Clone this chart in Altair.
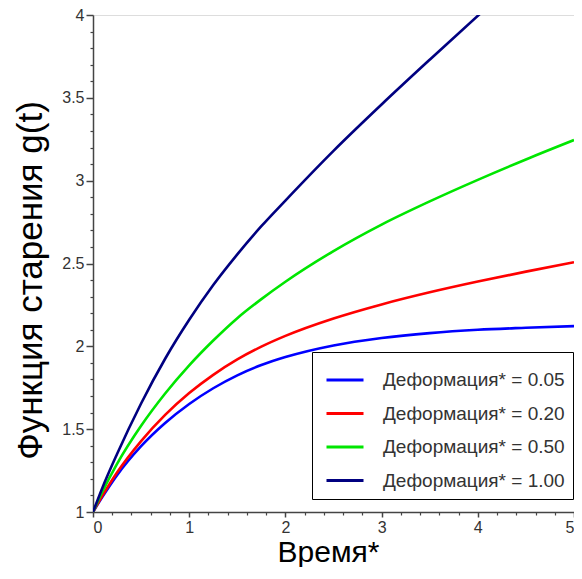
import altair as alt
import pandas as pd

# time points (Время*)
t_vals = [0, 0.1, 0.25, 0.5, 0.75, 1, 1.25, 1.5, 1.75, 2, 2.5, 3, 3.5, 4, 4.5, 5]

# g(t) for each deformation level
g_005 = [1, 1.093, 1.222, 1.397, 1.537, 1.652, 1.747, 1.825, 1.887, 1.935, 2.005, 2.050, 2.080, 2.100, 2.112, 2.122]
g_020 = [1, 1.100, 1.238, 1.428, 1.586, 1.718, 1.828, 1.921, 1.998, 2.063, 2.168, 2.253, 2.326, 2.391, 2.451, 2.508]
g_050 = [1, 1.125, 1.290, 1.520, 1.715, 1.885, 2.035, 2.170, 2.285, 2.390, 2.575, 2.735, 2.875, 3.005, 3.128, 3.245]
g_100 = [1, 1.150, 1.350, 1.655, 1.925, 2.160, 2.370, 2.555, 2.725, 2.880, 3.180, 3.460, 3.730, 3.995, 4.255, 4.510]

series_names = [
    "Деформация* = 0.05",
    "Деформация* = 0.20",
    "Деформация* = 0.50",
    "Деформация* = 1.00",
]
series_colors = ["#0000ff", "#ff0000", "#00e600", "#000080"]

x_major = [0, 1, 2, 3, 4, 5]
x_minor = [0.2, 0.4, 0.6, 0.8, 1.2, 1.4, 1.6, 1.8, 2.2, 2.4, 2.6, 2.8,
           3.2, 3.4, 3.6, 3.8, 4.2, 4.4, 4.6, 4.8]
y_major = [1, 1.5, 2, 2.5, 3, 3.5, 4]
y_minor = [1.1, 1.2, 1.3, 1.4, 1.6, 1.7, 1.8, 1.9, 2.1, 2.2, 2.3, 2.4,
           2.6, 2.7, 2.8, 2.9, 3.1, 3.2, 3.3, 3.4, 3.6, 3.7, 3.8, 3.9]

rows = []
for name, vals in zip(series_names, [g_005, g_020, g_050, g_100]):
    for t, g in zip(t_vals, vals):
        rows.append({"t": t, "g": g, "series": name})
df = pd.DataFrame(rows)

FONT = "Liberation Sans"
xs = alt.Scale(domain=[0, 5], nice=False, zero=False)
ys = alt.Scale(domain=[1, 4], nice=False, zero=False)

x_axis = alt.Axis(
    values=x_major, title="Время*", orient="bottom", grid=False,
    domainColor="#444", domainWidth=1.5, tickColor="#444", tickWidth=1.5, tickSize=5,
    labelFont=FONT, labelFontSize=16, labelColor="#333", labelPadding=2,
    titleFont=FONT, titleFontSize=30, titleFontWeight="normal", titleColor="#000",
    titleX=235, titleY=49, titleAlign="center", titleBaseline="alphabetic",
    format="~g",
)
y_axis = alt.Axis(
    values=y_major, title="Функция старения g(t)", orient="left", grid=False,
    domainColor="#444", domainWidth=1.5, tickColor="#444", tickWidth=1.5, tickSize=7,
    labelFont=FONT, labelFontSize=16, labelColor="#333", labelPadding=2,
    titleFont=FONT, titleFontSize=35, titleFontWeight="normal", titleColor="#000",
    titleX=-63, titleY=265, titleAlign="center", titleBaseline="middle", titleAngle=270,
    format="~g",
)
x_minor_axis = alt.Axis(
    values=x_minor, title=None, orient="bottom", grid=False, labels=False, domain=False,
    tickColor="#444", tickWidth=1.2, tickSize=3,
)
y_minor_axis = alt.Axis(
    values=y_minor, title=None, orient="left", grid=False, labels=False, domain=False,
    tickColor="#444", tickWidth=1.2, tickSize=3,
)

lines = alt.Chart(df).mark_line(clip=True, strokeWidth=2.6, interpolate="monotone").encode(
    x=alt.X("t:Q", scale=xs, axis=x_axis),
    y=alt.Y("g:Q", scale=ys, axis=y_axis),
    color=alt.Color(
        "series:N",
        scale=alt.Scale(domain=series_names, range=series_colors),
        legend=alt.Legend(
            title=None, orient="none", legendX=219, legendY=337,
            symbolType="stroke", symbolSize=1369, symbolStrokeWidth=3,
            symbolOffset=5, labelOffset=18, labelLimit=400,
            labelFont=FONT, labelFontSize=19, labelColor="#333",
            padding=8, rowPadding=3.5,
            strokeColor="#000", fillColor="#fff", cornerRadius=0,
        ),
    ),
    detail="series:N",
)

minor = alt.Chart(df).mark_line(opacity=0).encode(
    x=alt.X("t:Q", scale=xs, axis=x_minor_axis),
    y=alt.Y("g:Q", scale=ys, axis=y_minor_axis),
)

chart = alt.layer(lines, minor).resolve_axis(
    x="independent", y="independent"
).properties(
    width=481, height=497,
    autosize=alt.AutoSizeParams(type="none"),
    padding={"left": 85, "top": 7, "right": 0, "bottom": 55},
).configure_view(
    stroke="#555", strokeWidth=1.5
).configure(background="#ffffff")

chart.save("out.html", embed_options={"renderer": "svg", "actions": False})
